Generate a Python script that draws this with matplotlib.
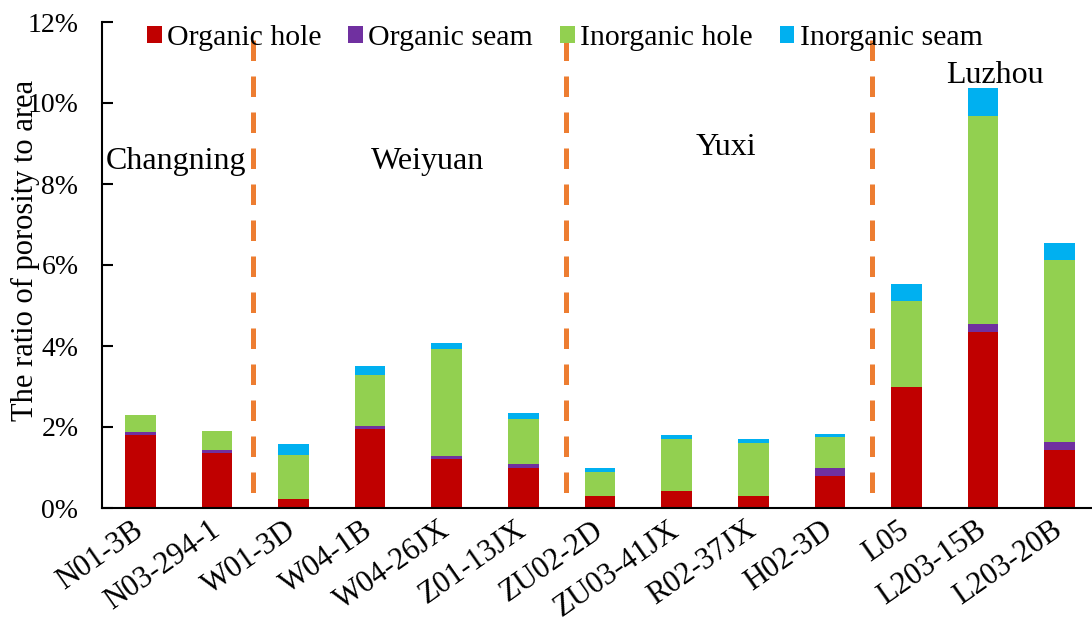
import matplotlib
matplotlib.use("Agg")
import matplotlib.pyplot as plt
import numpy as np

plt.rcParams["font.family"] = ["Liberation Serif", "DejaVu Serif"]

samples = ["N01-3B", "N03-294-1", "W01-3D", "W04-1B", "W04-26JX", "Z01-13JX",
           "ZU02-2D", "ZU03-41JX", "R02-37JX", "H02-3D", "L05", "L203-15B", "L203-20B"]

# porosity share of area, %
organic_hole = [1.80, 1.35, 0.21, 1.94, 1.20, 1.00, 0.29, 0.43, 0.29, 0.78, 3.00, 4.35, 1.42]
organic_seam = [0.08, 0.09, 0.00, 0.08, 0.08, 0.09, 0.01, 0.00, 0.01, 0.21, 0.00, 0.20, 0.21]
inorganic_hole = [0.42, 0.46, 1.10, 1.26, 2.65, 1.11, 0.60, 1.28, 1.31, 0.76, 2.11, 5.14, 4.49]
inorganic_seam = [0.00, 0.00, 0.26, 0.22, 0.14, 0.15, 0.09, 0.09, 0.09, 0.08, 0.41, 0.68, 0.43]

series = [
    ("Organic hole", organic_hole, "#C00000"),
    ("Organic seam", organic_seam, "#7030A0"),
    ("Inorganic hole", inorganic_hole, "#92D050"),
    ("Inorganic seam", inorganic_seam, "#00B0F0"),
]

regions = ["Changning", "Weiyuan", "Yuxi", "Luzhou"]
region_x = [0.46, 3.75, 7.64, 11.16]
region_y = [8.37, 8.37, 8.72, 10.49]
dividers = [1.47, 5.55, 9.55]

fig = plt.figure(figsize=(10.92, 6.24), dpi=100)
ax = fig.add_axes([102 / 1092, 116 / 624, 996 / 1092, 486 / 624])

x = np.arange(len(samples))
bottom = np.zeros(len(samples))
for name, vals, color in series:
    vals = np.array(vals)
    ax.bar(x, vals, width=0.4, bottom=bottom, color=color, label=name,
           linewidth=0, zorder=2)
    bottom += vals

for xd in dividers:
    ax.plot([xd, xd], [11.55, 0.25], color="#ED7D31", lw=3.6,
            dashes=(4.1, 3.1), dash_capstyle="butt", zorder=1)

for name, rx, ry in zip(regions, region_x, region_y):
    ax.text(rx, ry, name, ha="center", va="baseline", fontsize=23)

ax.set_xlim(-0.5, len(samples) - 0.5)
ax.set_ylim(0, 12)
ax.set_yticks(np.arange(0, 13, 2))
ax.set_yticklabels([f"{v}%" for v in range(0, 13, 2)], fontsize=20)
ax.tick_params(axis="y", direction="in", length=8, width=1.5, pad=17)
ax.set_xticks(x)
ax.set_xticklabels(samples, rotation=35, ha="right", va="center",
                   rotation_mode="anchor", fontsize=22)
ax.tick_params(axis="x", length=0, pad=14)
for side in ["top", "right"]:
    ax.spines[side].set_visible(False)
for side in ["left", "bottom"]:
    ax.spines[side].set_linewidth(1.5)

ax.set_ylabel("The ratio of porosity to area", fontsize=22)
ax.yaxis.set_label_coords(-0.062, 0.529)

fig.legend(loc="center left", bbox_to_anchor=(147 / 1092, 1 - 38 / 624),
           ncol=4, frameon=False, fontsize=21.5, handlelength=0.5,
           handleheight=0.5, handletextpad=0.17, columnspacing=0.9,
           borderpad=0, borderaxespad=0)

fig.savefig("out.png", dpi=100)
